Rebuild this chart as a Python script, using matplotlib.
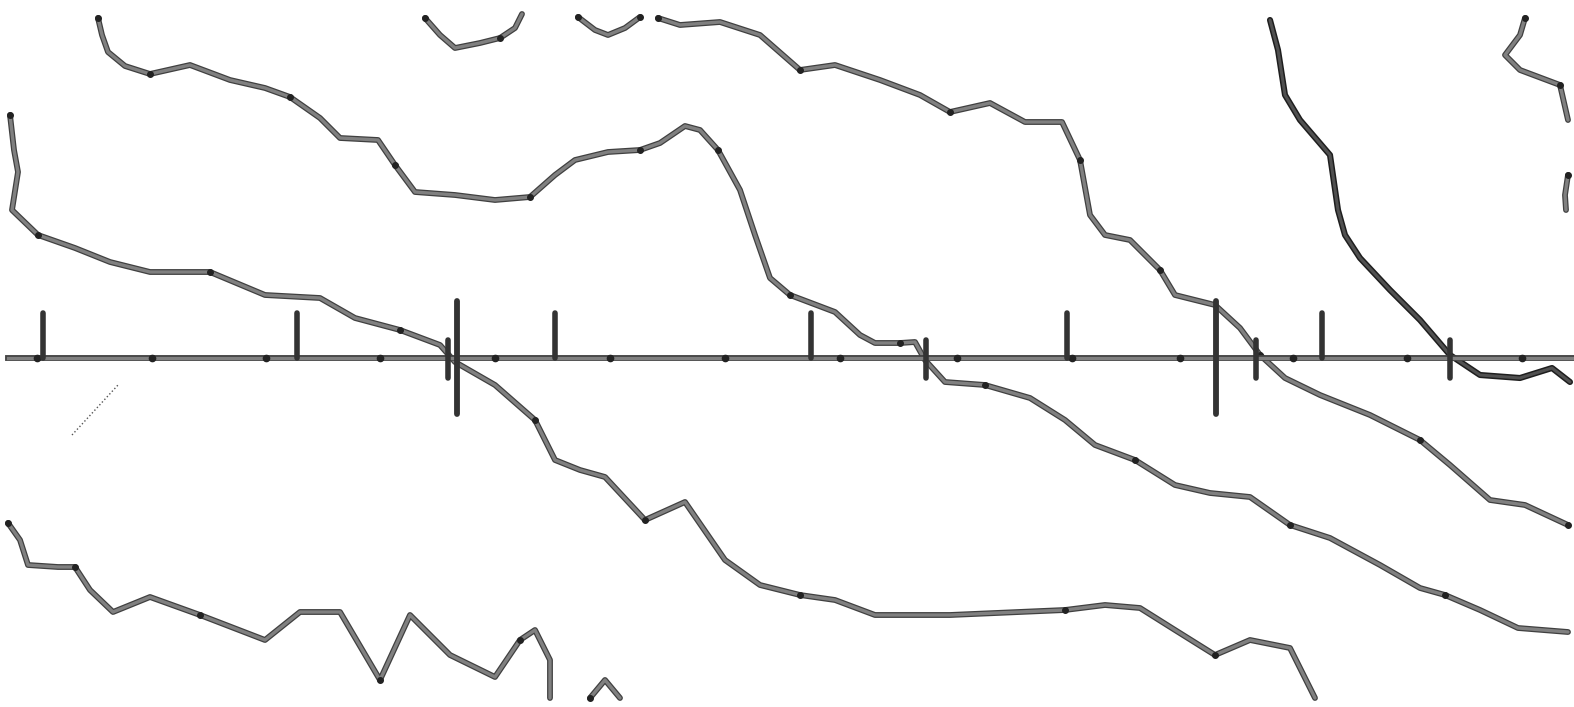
import matplotlib
matplotlib.use("Agg")
import matplotlib.pyplot as plt

# traced contour lines (x, y in image pixels, y downward)
curve_a_x = [98, 102, 108, 125, 150, 190, 230, 265, 290, 320, 340, 378, 395, 415, 455, 495, 530, 555, 575, 608, 640, 660, 685, 700, 718, 740, 755, 770, 790, 835, 860, 875, 900, 915, 925, 945, 985, 1030, 1065, 1095, 1135, 1175, 1210, 1250, 1290, 1330, 1380, 1420, 1445, 1480, 1518, 1568]
curve_a_y = [18, 35, 52, 66, 74, 65, 80, 88, 97, 118, 138, 140, 165, 192, 195, 200, 197, 175, 160, 152, 150, 143, 126, 130, 150, 190, 235, 278, 295, 312, 335, 343, 343, 342, 360, 382, 385, 398, 420, 445, 460, 485, 493, 497, 525, 538, 565, 588, 595, 610, 628, 632]

curve_b_x = [10, 14, 18, 12, 38, 75, 110, 150, 210, 265, 320, 355, 400, 440, 455, 495, 535, 555, 580, 605, 645, 685, 725, 760, 800, 835, 875, 950, 1065, 1105, 1140, 1175, 1215, 1250, 1290, 1315]
curve_b_y = [115, 150, 172, 210, 235, 248, 262, 272, 272, 295, 298, 318, 330, 345, 362, 385, 420, 460, 470, 477, 520, 502, 560, 585, 595, 600, 615, 615, 610, 605, 608, 630, 655, 640, 648, 698]

curve_c_x = [658, 680, 720, 760, 800, 835, 880, 920, 950, 990, 1025, 1062, 1080, 1090, 1105, 1130, 1160, 1175, 1215, 1240, 1260, 1285, 1320, 1370, 1420, 1450, 1490, 1525, 1568]
curve_c_y = [18, 25, 22, 35, 70, 65, 80, 95, 112, 103, 122, 122, 160, 215, 235, 240, 270, 295, 305, 328, 355, 378, 395, 415, 440, 465, 500, 505, 525]

curve_d_x = [1270, 1278, 1285, 1300, 1330, 1338, 1345, 1360, 1390, 1420, 1450, 1480, 1520, 1552, 1570]
curve_d_y = [20, 50, 95, 120, 155, 210, 235, 258, 290, 320, 355, 375, 378, 368, 382]

curve_e_x = [1525, 1520, 1505, 1520, 1560, 1568]
curve_e_y = [18, 35, 55, 70, 85, 120]

curve_e2_x = [1568, 1565, 1566]
curve_e2_y = [175, 195, 210]

curve_f_x = [8, 20, 28, 58, 75, 90, 113, 150, 200, 265, 300, 340, 380, 410, 450, 495, 520, 535, 550, 550]
curve_f_y = [523, 540, 565, 567, 567, 590, 612, 597, 615, 640, 612, 612, 680, 615, 655, 677, 640, 630, 660, 698]

arc1_x = [425, 440, 455, 480, 500, 515, 522]
arc1_y = [18, 35, 48, 43, 38, 28, 14]
arc2_x = [578, 595, 608, 625, 640]
arc2_y = [17, 30, 35, 28, 17]
caret_x = [590, 605, 620]
caret_y = [698, 680, 698]

axis_y = 358
axis_dots_x = [37, 152, 266, 380, 495, 610, 725, 840, 957, 1072, 1180, 1293, 1407, 1522]
short_ticks_x = [43, 297, 555, 811, 1067, 1322]
long_ticks_x = [457, 1216]
cross_ticks_x = [448, 926, 1256, 1450]

fig = plt.figure(figsize=(15.74, 7.07), dpi=100)
ax = fig.add_axes([0, 0, 1, 1])
ax.set_xlim(0, 1574)
ax.set_ylim(707, 0)
ax.axis("off")

gray = "#808080"
for xs, ys in [(curve_a_x, curve_a_y), (curve_b_x, curve_b_y), (curve_c_x, curve_c_y),
               (curve_e_x, curve_e_y), (curve_e2_x, curve_e2_y), (curve_f_x, curve_f_y),
               (arc1_x, arc1_y), (arc2_x, arc2_y), (caret_x, caret_y)]:
    ax.plot(xs, ys, color="#404040", lw=4.2, solid_capstyle="round", solid_joinstyle="round")
    ax.plot(xs, ys, color=gray, lw=2.4, solid_capstyle="round", solid_joinstyle="round")
    ax.plot(xs[::4], ys[::4], "o", color="#222222", ms=4)

ax.plot(curve_d_x, curve_d_y, color="#1e1e1e", lw=4.4, solid_capstyle="round", solid_joinstyle="round")
ax.plot(curve_d_x, curve_d_y, color="#505050", lw=2.2, solid_capstyle="round", solid_joinstyle="round")

# baseline
ax.plot([8, 1574], [axis_y, axis_y], color="#404040", lw=4.2)
ax.plot([8, 1574], [axis_y, axis_y], color=gray, lw=2.4)
ax.plot(axis_dots_x, [axis_y] * len(axis_dots_x), "o", color="#222222", ms=4.5)
for x in short_ticks_x:
    ax.plot([x, x], [313, axis_y], color="#333333", lw=4, solid_capstyle="round")
for x in long_ticks_x:
    ax.plot([x, x], [301, 414], color="#333333", lw=4.2, solid_capstyle="round")
for x in cross_ticks_x:
    ax.plot([x, x], [340, 378], color="#333333", lw=4, solid_capstyle="round")

ax.plot([72, 118], [435, 385], color="#555555", lw=1, ls=":")

fig.savefig("out.png", dpi=100, facecolor="white")
